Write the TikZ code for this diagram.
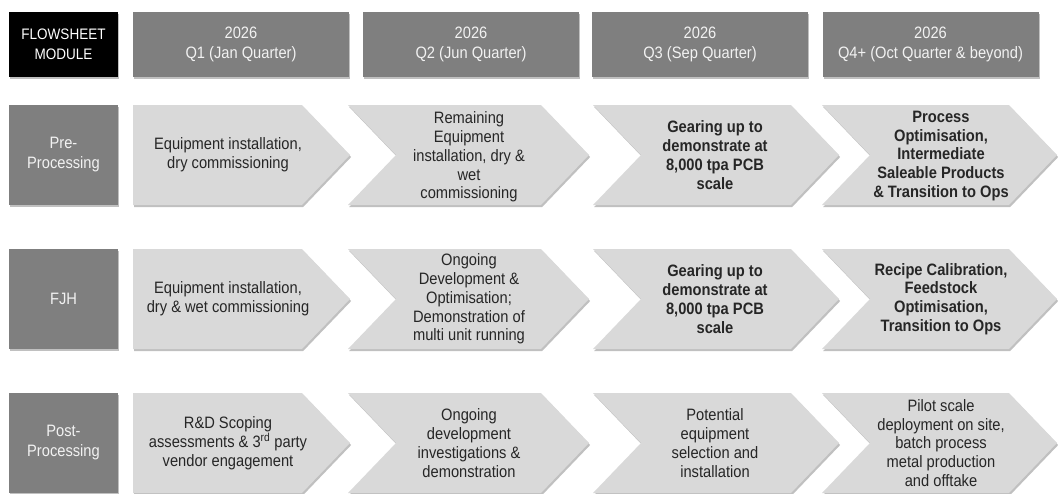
\documentclass[tikz,border=0pt]{standalone}
\usepackage{fontspec}
\setmainfont{Liberation Sans}[FakeStretch=0.89]
\usetikzlibrary{shadows}
\definecolor{hdr}{HTML}{7F7F7F}
\definecolor{chevfill}{HTML}{D9D9D9}
\definecolor{txt}{HTML}{262626}
\definecolor{lighttxt}{HTML}{F2F2F2}
\tikzset{
  shad/.style={drop shadow={shadow xshift=1.2pt, shadow yshift=-2pt, opacity=0.45, fill=black!55}},
  hdrbox/.style={fill=hdr, shad, minimum width=216pt, minimum height=65pt, inner sep=0pt, align=center, text=lighttxt, font=\fontsize{16.5}{20}\selectfont},
  modbox/.style={fill=hdr, shad, minimum width=109pt, minimum height=100pt, inner sep=0pt, align=center, text=lighttxt, font=\fontsize{16.5}{20}\selectfont},
  chevtext/.style={align=center, text=txt, inner sep=0pt, font=\fontsize{16.5}{18.8}\selectfont},
  chevbold/.style={chevtext, font=\fontsize{16.5}{18.8}\selectfont\bfseries},
}
\newcommand{\chevshape}[4]{%
  \fill[chevfill, shad] (#1,#3) -- (#2,#3) -- (#2+48,#3+50) -- (#2,#3+100) -- (#1,#3+100) -- (#1+#4,#3+50) -- cycle;}
\begin{document}
\begin{tikzpicture}[x=1pt, y=-1pt]
\useasboundingbox (0,0) rectangle (1058,493);
% header
\node[hdrbox, fill=black, minimum width=109pt, text=white, font=\fontsize{15.2}{20}\selectfont] (hmod) at (63.5,44.5) {FLOWSHEET\\MODULE};
\node[hdrbox] (hq1) at (241,44.5) {2026\\Q1 (Jan Quarter)};
\node[hdrbox] (hq2) at (471,44.5) {2026\\Q2 (Jun Quarter)};
\node[hdrbox] (hq3) at (700,44.5) {2026\\Q3 (Sep Quarter)};
\node[hdrbox] (hq4) at (930.5,44.5) {2026\\Q4+ (Oct Quarter \& beyond)};
% module labels
\node[modbox] (mpre) at (63.5,155) {Pre-\\Processing};
\node[modbox] (mfjh) at (63.5,299) {FJH};
\node[modbox] (mpost) at (63.5,443) {Post-\\Processing};
% chevrons
\foreach \t in {105,249,393} {
  \chevshape{133}{302}{\t}{0}
  \chevshape{348}{541}{\t}{48}
  \chevshape{593}{791}{\t}{48}
  \chevshape{822}{1009}{\t}{48}
}
% row 1
\node[chevtext] (p1) at (228,155) {Equipment installation,\\dry commissioning};
\node[chevtext] (p2) at (469,157) {Remaining\\Equipment\\installation, dry \&\\wet\\commissioning};
\node[chevbold] (p3) at (715,155) {Gearing up to\\demonstrate at\\8,000 tpa PCB\\scale};
\node[chevbold] (p4) at (941,156) {Process\\Optimisation,\\Intermediate\\Saleable Products\\\& Transition to Ops};
% row 2
\node[chevtext] (f1) at (228,299) {Equipment installation,\\dry \& wet commissioning};
\node[chevtext] (f2) at (469,299) {Ongoing\\Development \&\\Optimisation;\\Demonstration of\\multi unit running};
\node[chevbold] (f3) at (715,299) {Gearing up to\\demonstrate at\\8,000 tpa PCB\\scale};
\node[chevbold] (f4) at (941,299) {Recipe Calibration,\\Feedstock\\Optimisation,\\Transition to Ops};
% row 3
\node[chevtext] (q1) at (228,443) {R\&D Scoping\\assessments \& 3\textsuperscript{rd} party\\vendor engagement};
\node[chevtext] (q2) at (469,443) {Ongoing\\development\\investigations \&\\demonstration};
\node[chevtext] (q3) at (715,443) {Potential\\equipment\\selection and\\installation};
\node[chevtext] (q4) at (941,443) {Pilot scale\\deployment on site,\\batch process\\metal production\\and offtake};
\end{tikzpicture}
\end{document}
